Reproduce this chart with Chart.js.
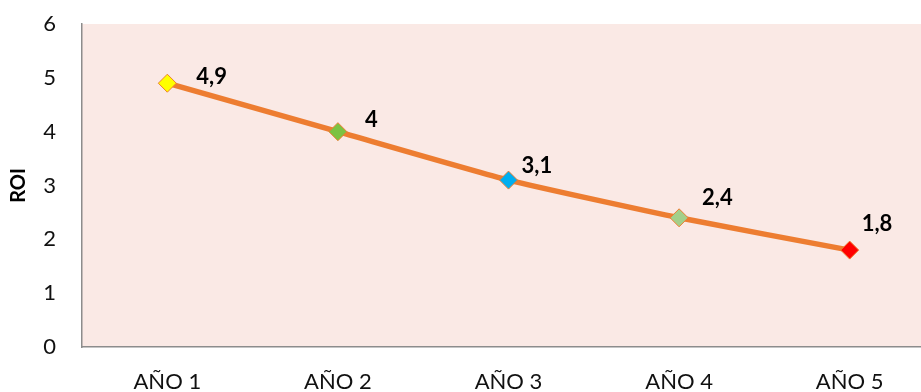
<!DOCTYPE html>
<html>
<head>
<meta charset="utf-8">
<script src="https://cdn.jsdelivr.net/npm/chart.js@4"></script>
<style>
  html, body { margin: 0; padding: 0; overflow: hidden; background: #fff; }
  #wrap { width: 945px; height: 392px; }
  #roi { width: 945px; height: 392px; }
</style>
</head>
<body>
<div id="wrap"><canvas id="roi" width="945" height="392"></canvas></div>
<script>
var labels = ['AÑO 1', 'AÑO 2', 'AÑO 3', 'AÑO 4', 'AÑO 5'];
var roi = [4.9, 4, 3.1, 2.4, 1.8];
var pointColors = ['#ffff00', '#7cc242', '#00aeef', '#a3cf8a', '#ff0000'];
var yTicks = [0, 1, 2, 3, 4, 5, 6];

// label offsets relative to each point (Excel places them by hand)
var labelOffsets = [[29, -6], [27, -12], [13, -14], [23, -20], [12, -26]];

var plotBg = {
    id: 'plotBg',
    beforeDraw: function(chart){
        var a = chart.chartArea, ctx = chart.ctx;
        ctx.save();
        ctx.fillStyle = '#fae9e5';
        ctx.fillRect(a.left, a.top, a.right - a.left, a.bottom - a.top);
        ctx.restore();
    }
};

var valueLabels = {
    id: 'valueLabels',
    afterDatasetsDraw: function(chart){
        var ctx = chart.ctx;
        var pts = chart.getDatasetMeta(0).data;
        ctx.save();
        ctx.font = 'bold 22px Lato, "Open Sans", sans-serif';
        ctx.fillStyle = '#000';
        ctx.textBaseline = 'middle';
        ctx.textAlign = 'left';
        pts.forEach(function(p, i){
            var txt = String(roi[i]).replace('.', ',');
            ctx.fillText(txt, p.x + labelOffsets[i][0], p.y + labelOffsets[i][1]);
        });
        ctx.restore();
    }
};

new Chart(document.getElementById('roi').getContext('2d'), {
    type: 'line',
    data: {
        labels: labels,
        datasets: [{
            data: roi,
            borderColor: '#ed7d31',
            borderWidth: 5.5,
            tension: 0.15,
            pointStyle: 'rectRot',
            pointRadius: 9,
            pointHoverRadius: 9,
            pointBackgroundColor: pointColors,
            pointBorderColor: '#ed7d31',
            pointBorderWidth: 1
        }]
    },
    options: {
        responsive: false,
        animation: false,
        layout: { padding: { top: 24, right: 0, left: 0, bottom: 0 } },
        plugins: {
            legend: { display: false },
            tooltip: { enabled: false }
        },
        scales: {
            x: {
                offset: true,
                grid: { display: false, drawTicks: false },
                border: { display: true, color: '#8c8c8c', width: 1.5 },
                ticks: {
                    color: '#111',
                    padding: 22,
                    font: { family: 'Lato, "Open Sans", sans-serif', size: 22 }
                },
                afterFit: function(axis){
                    axis.height = 45;
                    axis.paddingLeft = 0;
                    axis.paddingRight = 0;
                }
            },
            y: {
                min: 0,
                max: 6,
                afterBuildTicks: function(axis){
                    axis.ticks = yTicks.map(function(v){ return { value: v }; });
                },
                grid: { display: false, drawTicks: false },
                border: { display: true, color: '#8c8c8c', width: 1.5 },
                ticks: {
                    color: '#111',
                    padding: 26,
                    font: { family: 'Lato, "Open Sans", sans-serif', size: 22 }
                },
                title: {
                    display: true,
                    text: 'ROI',
                    color: '#000',
                    padding: { top: 7, bottom: 0 },
                    font: { family: 'Lato, "Open Sans", sans-serif', size: 20, weight: 'bold' }
                },
                afterFit: function(axis){
                    axis.width = 82;
                    axis.paddingTop = 0;
                    axis.paddingBottom = 0;
                }
            }
        }
    },
    plugins: [plotBg, valueLabels]
});
</script>
</body>
</html>
